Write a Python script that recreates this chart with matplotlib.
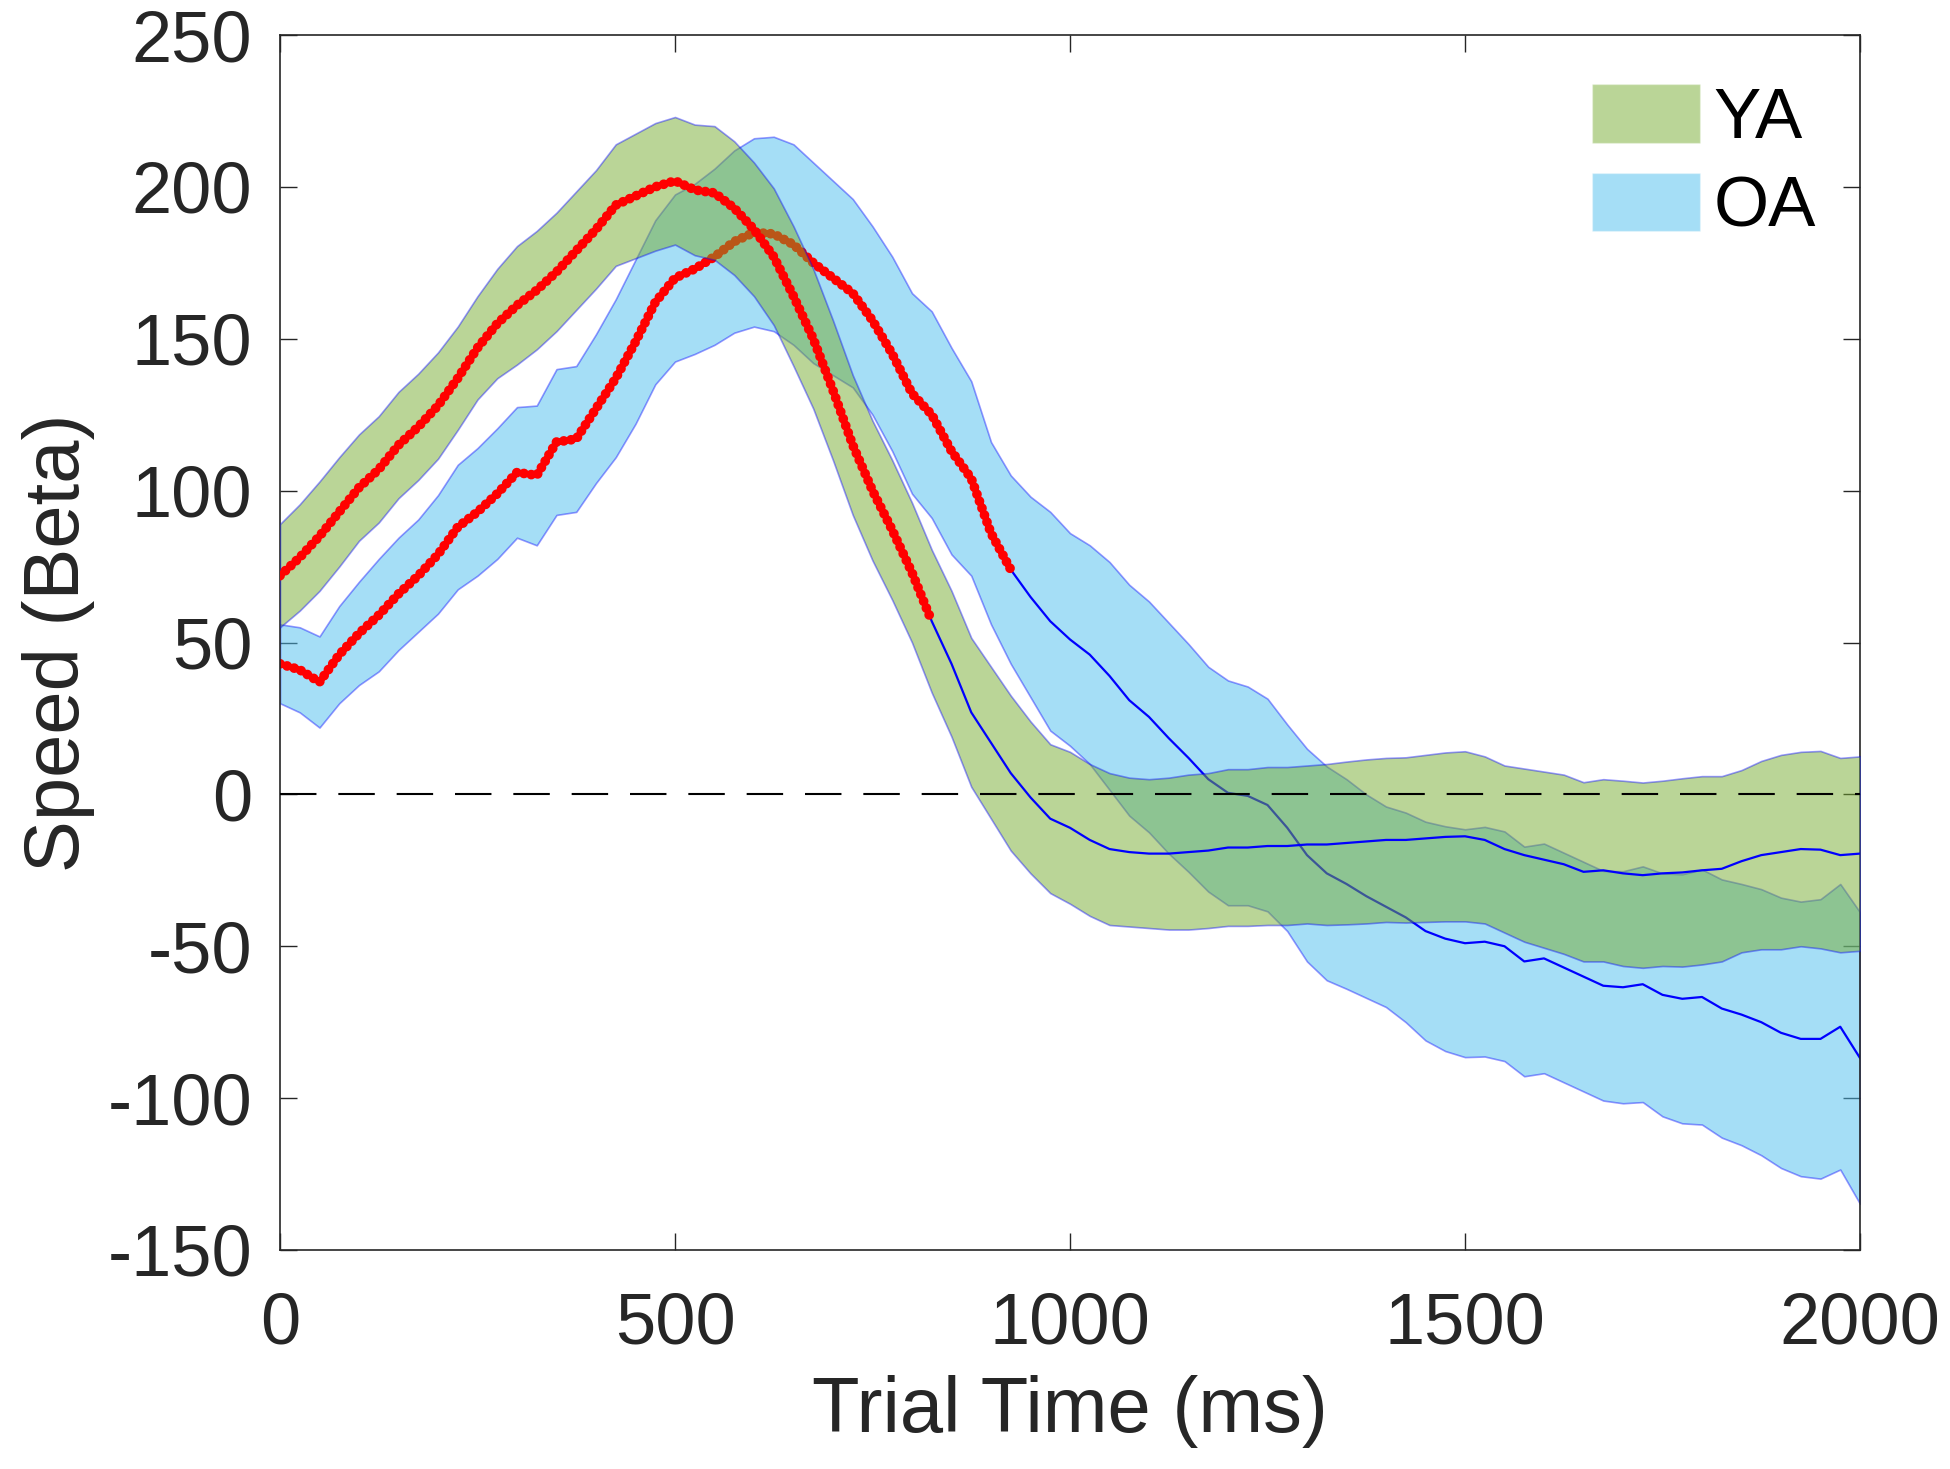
import numpy as np
import matplotlib
matplotlib.use("Agg")
import matplotlib.pyplot as plt
from matplotlib.patches import Patch

#---------------------------------
# DATA (25 ms grid)
#---------------------------------

time_ms = np.arange(0, 2001, 25)

ya_mean = [72, 78, 85, 93, 101, 107, 115, 121,
           128, 137, 147, 155, 161, 166, 172, 179,
           186, 194, 197, 200, 202, 199, 198, 193,
           186, 177, 164, 150, 133, 115, 100, 87,
           73, 57, 43, 27, 17, 7, -1, -8,
           -11, -15, -18, -19, -19.5, -19.5, -19, -18.5,
           -17.5, -17.5, -17, -17, -16.5, -16.5, -16, -15.5,
           -15, -15, -14.5, -14, -13.8, -15, -18, -20,
           -21.5, -23, -25.5, -25, -26, -26.6, -26, -25.7,
           -25, -24.5, -22, -20, -19, -18, -18.2, -20,
           -19.5]

ya_sem = [17, 17.5, 18, 18, 17.5, 17.5, 17.5, 17.5,
          17.5, 17, 17, 18, 19.5, 19.5, 19.5, 19.5,
          19.5, 20, 20.5, 21, 21, 21.5, 22, 22,
          22, 22.5, 23, 23, 23, 23, 23, 23,
          23, 23.5, 24, 24.5, 25, 25.5, 25, 24.5,
          25, 25, 25, 24.5, 24.5, 25, 25.5, 25.5,
          25.8, 25.8, 26, 26, 26, 26.5, 26.8, 27,
          27, 27.2, 27.5, 27.8, 28, 27.5, 27.5, 28.5,
          29, 29.5, 29.5, 30, 30.5, 30.5, 30.5, 31,
          31, 30.5, 30, 31, 32, 32, 32.5, 32,
          32]

oa_mean = [43, 41, 37, 46, 53, 59, 66, 72,
           79, 88, 93, 99, 106, 105, 116, 117,
           127, 137, 149, 162, 170, 173, 177, 182,
           185, 184.5, 181, 175, 170, 165, 156, 145,
           132, 125, 113, 104, 86, 74, 65, 57,
           51, 46, 39, 31, 25.5, 18.5, 12, 5,
           0.5, -0.5, -3.5, -11, -20, -26, -29.5, -33.5,
           -37, -40.5, -45, -47.5, -49, -48.5, -50, -55,
           -54, -57, -60, -63, -63.5, -62.5, -66, -67.3,
           -66.7, -70.5, -72.5, -75, -78.5, -80.5, -80.5, -76.5,
           -86.8]

oa_sem = [13, 14, 15, 16, 17, 18.5, 18.5, 18.5,
          19.5, 20.5, 21, 21.5, 21.5, 23, 24, 24,
          24.5, 26, 27, 27, 27.5, 28, 29, 30,
          31, 32, 33, 33, 32, 31, 31, 32,
          33, 34, 34, 32, 30, 31, 33, 36,
          35, 36, 37.5, 38, 38, 38, 37.5, 37,
          37, 36, 35, 34, 35, 35.2, 34.5, 33.5,
          33, 34.5, 36, 37, 37.5, 37.8, 37.8, 37.8,
          37.8, 37.8, 37.8, 37.8, 38.2, 38.8, 40, 41,
          42, 42.5, 43, 43.8, 44.5, 45.2, 46, 47,
          48]

# last time point (ms) of the significant stretch of each group
sig_end_ya = 825
sig_end_oa = 925

group_labels = ["YA", "OA"]

#---------------------------------
# STYLE
#---------------------------------

col_ya = "#77AC30"
col_oa = "#4DBEEE"
edge_col = (0.0, 0.0, 1.0, 0.4)
axis_col = "#262626"

plt.rcParams["font.family"] = ["Liberation Sans", "DejaVu Sans"]
plt.rcParams["axes.unicode_minus"] = False


def col_to_rgba(c, a):
	return matplotlib.colors.to_rgba(c, a)


def draw_group(ax, mean, sem, sig_end, face_col, z):
	mean = np.asarray(mean, dtype=float)
	sem = np.asarray(sem, dtype=float)

	band = ax.fill_between(time_ms, mean - sem, mean + sem, facecolor=col_to_rgba(face_col, 0.5),
						   edgecolor=edge_col, linewidth=1.2, zorder=z)
	ax.plot(time_ms, mean, color="b", lw=1.6, zorder=z + 0.1)

	# significant stretch drawn as a chain of red dots
	sig = time_ms <= sig_end
	ax.plot(time_ms[sig], mean[sig], color="r", lw=7, dashes=(0.01, 0.75),
			dash_capstyle="round", solid_capstyle="round", zorder=z + 0.2)
	return band


fig = plt.figure(figsize=(19.5, 14.69), dpi=100)
ax = fig.add_axes([280 / 1950, 1 - 1250 / 1469, 1580 / 1950, 1215 / 1469])

# OA first so the YA band sits on top of it
draw_group(ax, oa_mean, oa_sem, sig_end_oa, col_oa, 2)
draw_group(ax, ya_mean, ya_sem, sig_end_ya, col_ya, 3)

ax.axhline(0, color="k", lw=1.5, dashes=(17.5, 10.5), zorder=5)

ax.set_xlim(0, 2000)
ax.set_ylim(-150, 250)
ax.set_xticks([0, 500, 1000, 1500, 2000])
ax.set_yticks([-150, -100, -50, 0, 50, 100, 150, 200, 250])

ax.tick_params(direction="in", length=12, width=1.0, top=True, right=True,
			   labelsize=52, colors=axis_col)
ax.tick_params(axis="x", pad=30)
ax.tick_params(axis="y", pad=20)
for sp in ax.spines.values():
	sp.set_linewidth(1.2)
	sp.set_color(axis_col)

ax.set_xlabel("Trial Time (ms)", fontsize=56, color=axis_col)
ax.set_ylabel("Speed (Beta)", fontsize=56, color=axis_col)
ax.xaxis.set_label_coords(0.5, -0.103)
ax.yaxis.set_label_coords(-0.117, 0.5)

handles = [Patch(facecolor=col_to_rgba(col_ya, 0.5), edgecolor=(1, 1, 1, 0.3)),
		   Patch(facecolor=col_to_rgba(col_oa, 0.5), edgecolor=(1, 1, 1, 0.3))]
ax.legend(handles, group_labels, loc="upper left", bbox_to_anchor=(1592 / 1950, 1 - 84 / 1469),
		  bbox_transform=fig.transFigure, frameon=False, fontsize=51,
		  handlelength=1.52, handleheight=0.9, handletextpad=0.2,
		  labelspacing=0.28, borderpad=0, borderaxespad=0)

fig.savefig("out.png", dpi=100)
